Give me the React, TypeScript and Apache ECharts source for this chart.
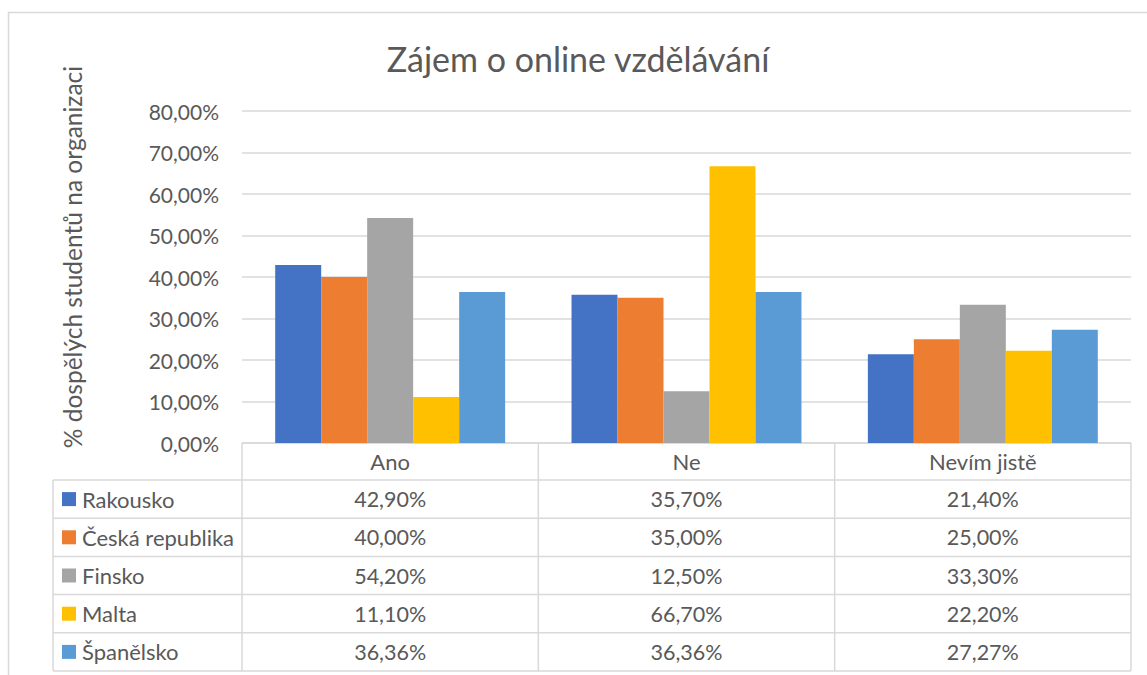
import React, { useEffect, useRef } from "react";
import * as echarts from "echarts";

const categories = ["Ano", "Ne", "Nevím jistě"];
const seriesNames = ["Rakousko", "Česká republika", "Finsko", "Malta", "Španělsko"];
const rakousko = [42.9, 35.7, 21.4];
const ceskaRepublika = [40.0, 35.0, 25.0];
const finsko = [54.2, 12.5, 33.3];
const malta = [11.1, 66.7, 22.2];
const spanelsko = [36.36, 36.36, 27.27];
const seriesValues = [rakousko, ceskaRepublika, finsko, malta, spanelsko];
const colors = ["#4472C4", "#ED7D31", "#A5A5A5", "#FFC000", "#5B9BD5"];
const yTicks = [0, 10, 20, 30, 40, 50, 60, 70, 80];

const FONT = "Lato, 'Open Sans', sans-serif";
const TXT = "#595959";
const LINE = "#D9D9D9";

const fmt = (v: number) => v.toFixed(2).replace(".", ",") + "%";

export default function App() {
  const ref = useRef<HTMLDivElement>(null);
  useEffect(() => {
    if (!ref.current) return;
    const chart = echarts.init(ref.current, null, { renderer: "svg" });

    const gridLeft = 242;
    const gridRight = 1131;
    const gridTop = 111;
    const gridBottom = 443;
    const tableLeft = 53;
    const headerBottom = 480;
    const rowH = 38.2;
    const colW = (gridRight - gridLeft) / categories.length;

    const g: any[] = [];
    g.push({
      type: "rect",
      shape: { x: 8.5, y: 12.5, width: 1200, height: 800 },
      style: { fill: "none", stroke: LINE, lineWidth: 1.5 },
      silent: true,
    });
    g.push({
      type: "line",
      shape: { x1: gridLeft, y1: gridBottom, x2: gridRight, y2: gridBottom },
      style: { stroke: LINE, lineWidth: 1.5 },
    });
    const tableBottom = headerBottom + rowH * seriesNames.length;
    for (let i = 0; i <= seriesNames.length; i++) {
      const y = headerBottom + rowH * i;
      g.push({
        type: "line",
        shape: { x1: tableLeft, y1: y, x2: gridRight, y2: y },
        style: { stroke: LINE, lineWidth: 1.5 },
      });
    }
    g.push({
      type: "line",
      shape: { x1: tableLeft, y1: headerBottom, x2: tableLeft, y2: tableBottom },
      style: { stroke: LINE, lineWidth: 1.5 },
    });
    for (let c = 0; c <= categories.length; c++) {
      const x = gridLeft + colW * c;
      g.push({
        type: "line",
        shape: { x1: x, y1: gridBottom, x2: x, y2: tableBottom },
        style: { stroke: LINE, lineWidth: 1.5 },
      });
    }
    seriesNames.forEach((name, i) => {
      const cy = headerBottom + rowH * i + rowH / 2;
      g.push({
        type: "rect",
        shape: { x: 62, y: cy - 7, width: 14, height: 14 },
        style: { fill: colors[i] },
      });
      g.push({
        type: "text",
        x: 82,
        y: cy,
        style: {
          text: name,
          fill: TXT,
          font: `22px ${FONT}`,
          textAlign: "left",
          textVerticalAlign: "middle",
        },
      });
      seriesValues[i].forEach((v, c) => {
        g.push({
          type: "text",
          x: gridLeft + colW * c + colW / 2,
          y: cy,
          style: {
            text: fmt(v),
            fill: TXT,
            font: `21.5px ${FONT}`,
            textAlign: "center",
            textVerticalAlign: "middle",
          },
        });
      });
    });
    g.push({
      type: "text",
      x: 72,
      y: 257,
      rotation: Math.PI / 2,
      style: {
        text: "% dospělých studentů na organizaci",
        fill: TXT,
        font: `24.5px ${FONT}`,
        textAlign: "center",
        textVerticalAlign: "middle",
      },
    });

    chart.setOption({
      animation: false,
      backgroundColor: "#fff",
      title: {
        text: "Zájem o online vzdělávání",
        left: 573,
        top: 36,
        textAlign: "center",
        textStyle: { color: TXT, fontFamily: FONT, fontSize: 34, fontWeight: "normal" },
      },
      grid: {
        left: gridLeft,
        right: 1147 - gridRight,
        top: gridTop,
        bottom: 675 - gridBottom,
        containLabel: false,
      },
      xAxis: {
        type: "category",
        data: categories,
        axisLine: { show: false },
        axisTick: { show: false },
        axisLabel: {
          color: TXT,
          fontFamily: FONT,
          fontSize: 22,
          margin: 7,
        },
      },
      yAxis: {
        type: "value",
        min: 0,
        max: 80,
        interval: 10,
        axisLine: { show: false },
        axisTick: { show: false },
        splitLine: { lineStyle: { color: LINE, width: 1.5 } },
        axisLabel: {
          color: TXT,
          fontFamily: FONT,
          fontSize: 21,
          margin: 23,
          formatter: (v: number) => (yTicks.includes(v) ? fmt(v) : ""),
        },
      },
      series: seriesNames.map((name, i) => ({
        name,
        type: "bar",
        data: seriesValues[i],
        barGap: "0%",
        barCategoryGap: "22.4%",
        itemStyle: { color: colors[i] },
      })),
      graphic: g,
    });
    return () => chart.dispose();
  }, []);
  return (
    <div
      ref={ref}
      style={{ position: "fixed", left: 0, top: 0, width: 1147, height: 675 }}
    />
  );
}
